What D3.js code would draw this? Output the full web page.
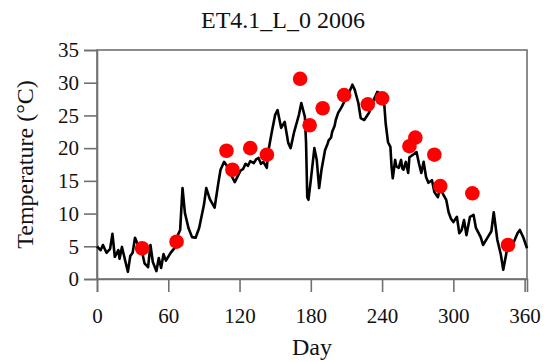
<!DOCTYPE html>
<html><head><meta charset="utf-8">
<script src="https://cdn.jsdelivr.net/npm/d3@7"></script>
<style>body{margin:0;background:#fff}svg{display:block}svg text{font-family:"Liberation Serif","Times New Roman",serif}</style>
</head><body>
<script>
const title = "ET4.1_L_0 2006";
const xTicks = [0, 60, 120, 180, 240, 300, 360];
const yTicks = [0, 5, 10, 15, 20, 25, 30, 35];
// daily air temperature trace (day, °C)
const lineDays = [0,3,5,8,11,13,15,18,19,21,24,26,28,30,32,35,38,40,43,45,47,50,52,54,56,58,62,66,68,70,72,74,77,80,83,86,90,92,95,99,102,104,107,109,112,116,119,121,123,125,127,129,132,134,136,138,140,143,144,147,150,152,155,158,161,163,166,170,172,175,176,177,178,180,183,185,187,189,192,194,195,197,198,200,201,203,206,209,212,215,217,220,222,225,229,233,236,238,241,242,243,245,247,248,249,251,252,254,256,257,258,260,262,263,266,269,271,273,275,277,279,282,284,287,289,291,294,296,298,300,303,305,307,309,311,314,317,319,323,325,329,332,334,337,340,342,345,348,351,354,356,359,362];
const lineTemps = [5.0,4.4,5.2,4.0,4.6,6.9,3.4,4.4,3.1,4.9,2.6,1.1,3.5,4.0,6.3,5.0,4.1,2.4,1.8,5.2,2.6,1.2,3.2,1.7,3.8,2.8,4.0,4.9,6.7,7.5,13.9,10.1,7.8,6.4,6.3,7.8,11.3,13.9,12.2,10.9,14.5,16.7,17.9,17.4,16.2,14.8,15.9,16.6,16.8,17.6,17.3,18.0,17.7,18.3,18.5,17.6,17.9,17.0,19.3,22.3,25.1,25.8,23.1,24.0,20.8,20.0,22.5,25.1,26.9,24.8,20.8,12.5,12.1,15.1,20.0,18.2,13.9,16.7,19.7,20.6,21.2,21.6,22.5,23.4,24.3,25.4,26.3,27.4,28.4,29.7,28.9,26.9,24.6,24.3,25.4,27.4,28.6,28.4,28.0,26.3,23.8,20.9,20.2,17.1,15.4,18.2,17.2,17.0,18.2,16.9,16.7,17.9,16.2,18.6,19.0,19.4,17.7,16.2,17.9,15.6,14.7,15.1,13.3,12.5,14.1,13.1,12.1,10.2,9.2,8.7,9.5,7.0,7.5,9.0,6.7,9.5,9.8,7.8,6.4,5.2,6.4,7.3,10.2,6.0,3.7,1.4,4.3,5.2,5.7,7.0,7.5,6.3,4.7];
// observed points
const obsDays = [38,67,109,114,129,143,171,179,190,208,228,240,263,268,284,289,316,346];
const obsTemps = [4.7,5.7,19.6,16.7,20.0,19.0,30.6,23.5,26.1,28.1,26.7,27.6,20.3,21.6,19.0,14.2,13.1,5.2];

const W = 544, H = 362;
const m = {left: 97, right: 17, top: 50, bottom: 83};
const svg = d3.select("body").append("svg").attr("width", W).attr("height", H);
const x = d3.scaleLinear().domain([0, 362]).range([m.left, W - m.right]);
const y = d3.scaleLinear().domain([0, 35]).range([H - m.bottom, m.top]);
const font = "Liberation Serif, Times New Roman, serif";
const axisCol = "#707070";

// frame
svg.append("rect").attr("x", m.left).attr("y", m.top)
  .attr("width", W - m.right - m.left).attr("height", H - m.bottom - m.top)
  .attr("fill", "none").attr("stroke", axisCol).attr("stroke-width", 1.6);

const xAxis = svg.append("g").attr("transform", `translate(0,${H - m.bottom})`)
  .call(d3.axisBottom(x).tickValues(xTicks).tickSize(13).tickPadding(16).tickFormat(d3.format("d")));
const yAxis = svg.append("g").attr("transform", `translate(${m.left},0)`)
  .call(d3.axisLeft(y).tickValues(yTicks).tickSize(13).tickPadding(5).tickFormat(d3.format("d")));
[xAxis, yAxis].forEach(g => {
  g.attr("font-family", font).attr("font-size", 21);
  g.select(".domain").attr("stroke", axisCol).attr("stroke-width", 1.6);
  g.selectAll(".tick line").attr("stroke", axisCol).attr("stroke-width", 1.6);
  g.selectAll(".tick text").attr("fill", "#111");
});

const pts = lineDays.map((d, i) => [d, lineTemps[i]]);
svg.append("path").datum(pts)
  .attr("d", d3.line().x(d => x(d[0])).y(d => y(d[1])))
  .attr("fill", "none").attr("stroke", "#000").attr("stroke-width", 2.6).attr("stroke-linejoin", "round");

svg.append("g").selectAll("circle").data(obsDays).join("circle")
  .attr("cx", d => x(d)).attr("cy", (d, i) => y(obsTemps[i])).attr("r", 7.3).attr("fill", "#ff0000");

svg.append("text").attr("x", 283).attr("y", 28).attr("text-anchor", "middle")
  .attr("font-size", 24).attr("fill", "#111").text(title);
svg.append("text").attr("x", 312).attr("y", 355).attr("text-anchor", "middle")
  .attr("font-size", 24).attr("fill", "#111").text("Day");
svg.append("text").attr("transform", `translate(33,${(m.top + H - m.bottom) / 2}) rotate(-90)`)
  .attr("text-anchor", "middle").attr("font-size", 24).attr("fill", "#111").text("Temperature (°C)");
</script>
</body></html>
